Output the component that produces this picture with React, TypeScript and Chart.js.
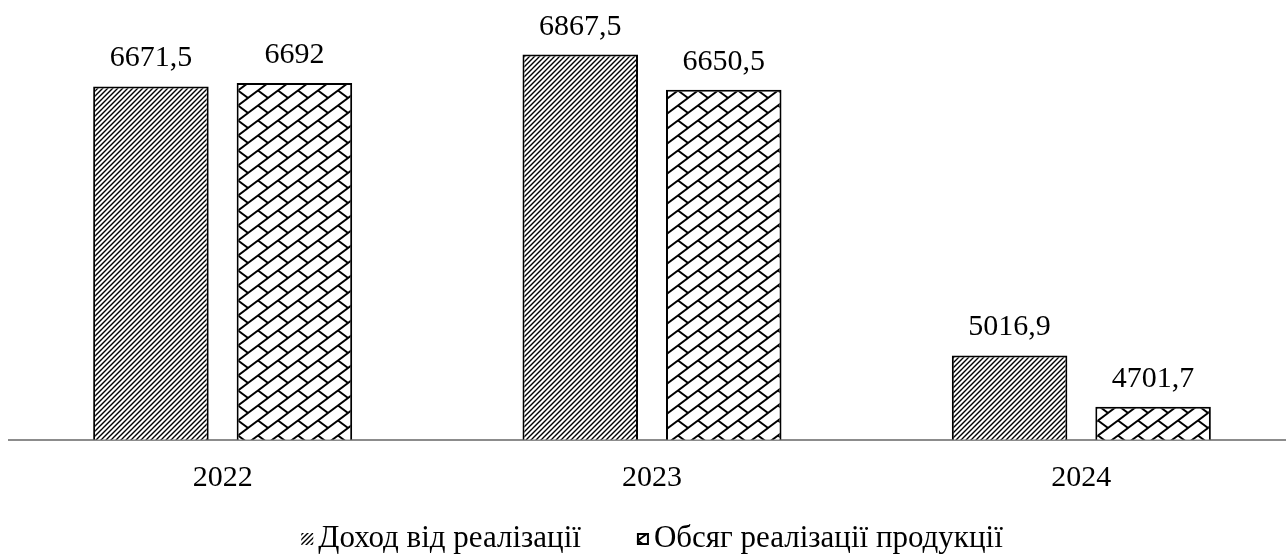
import React, { useEffect, useRef } from 'react';
import { Chart, registerables } from 'chart.js';

Chart.register(...registerables);

const categories = ['2022', '2023', '2024'];
const revenueLabel = 'Доход від реалізації';
const volumeLabel = 'Обсяг реалізації продукції';
const revenue = [6671.5, 6867.5, 5016.9];
const volume = [6692, 6650.5, 4701.7];
const yMin = 4500;
const yMax = 7000;

const FONT = "'Liberation Serif', 'Times New Roman', serif";

const fmt = (v: number) => String(v).replace('.', ',');

function makeDiagonal(): CanvasPattern | string {
  const T = 10;
  const c = document.createElement('canvas');
  c.width = T;
  c.height = T;
  const g = c.getContext('2d');
  if (!g) return '#888';
  g.fillStyle = '#fff';
  g.fillRect(0, 0, T, T);
  g.strokeStyle = '#000';
  g.lineWidth = 1.35;
  for (const k of [-10, -5, 0, 5, 10, 15, 20, 25]) {
    g.beginPath();
    g.moveTo(k + 3, -3);
    g.lineTo(k - T - 3, T + 3);
    g.stroke();
  }
  const p = g.createPattern(c, 'repeat');
  return p || '#888';
}

function makeBrick(): CanvasPattern | string {
  const sx = 2.5;
  const sy = 1.875;
  const W = 8 * sx;
  const H = 8 * sy;
  const c = document.createElement('canvas');
  c.width = W;
  c.height = H;
  const g = c.getContext('2d');
  if (!g) return '#ccc';
  g.fillStyle = '#fff';
  g.fillRect(0, 0, W, H);
  g.strokeStyle = '#000';
  g.lineWidth = 1.9;
  g.lineCap = 'butt';
  const seg = (x1: number, y1: number, x2: number, y2: number) => {
    g.beginPath();
    g.moveTo(x1 * sx, y1 * sy);
    g.lineTo(x2 * sx, y2 * sy);
    g.stroke();
  };
  for (const k of [0, 8, 16]) seg(k + 1, -1, k - 9, 9);
  seg(4, 4, 8, 8);
  seg(-4, -4, 0, 0);
  const p = g.createPattern(c, 'repeat');
  return p || '#ccc';
}

const valueLabels = {
  id: 'valueLabels',
  afterDatasetsDraw(chart: any) {
    const ctx = chart.ctx;
    ctx.save();
    ctx.font = `30px ${FONT}`;
    ctx.fillStyle = '#000';
    ctx.textAlign = 'center';
    ctx.textBaseline = 'alphabetic';
    chart.data.datasets.forEach((ds: any, i: number) => {
      const meta = chart.getDatasetMeta(i);
      meta.data.forEach((el: any, j: number) => {
        ctx.fillText(fmt(ds.data[j]), el.x, el.y - 20);
      });
    });
    ctx.restore();
  },
};

const bottomLegend = {
  id: 'bottomLegend',
  afterDraw(chart: any) {
    const ctx = chart.ctx;
    const area = chart.chartArea;
    ctx.save();
    ctx.font = `31px ${FONT}`;
    ctx.textBaseline = 'alphabetic';
    ctx.textAlign = 'left';
    const box = 12;
    const gapBoxText = 5;
    const gapItems = 56;
    const items = chart.data.datasets.map((ds: any, i: number) => ({
      text: ds.label as string,
      fill: ds.backgroundColor,
      border: i === 1,
      w: ctx.measureText(ds.label).width,
    }));
    const total =
      items.reduce((s: number, it: any) => s + box + gapBoxText + it.w, 0) +
      gapItems * (items.length - 1);
    let x = (area.left + area.right) / 2 - total / 2;
    const baseline = chart.height - 10;
    items.forEach((it: any) => {
      const top = baseline - 14;
      ctx.fillStyle = it.fill;
      ctx.fillRect(x, top, box, box);
      if (it.border) {
        ctx.strokeStyle = '#000';
        ctx.lineWidth = 2;
        ctx.strokeRect(x + 1, top + 1, box - 2, box - 2);
      }
      x += box + gapBoxText;
      ctx.fillStyle = '#000';
      ctx.fillText(it.text, x, baseline);
      x += it.w + gapItems;
    });
    ctx.restore();
  },
};

export default function App() {
  const ref = useRef<HTMLCanvasElement | null>(null);

  useEffect(() => {
    document.body.style.overflow = 'hidden';
    const canvas = ref.current;
    if (!canvas) return;
    const chart = new Chart(canvas, {
      type: 'bar',
      data: {
        labels: categories,
        datasets: [
          {
            label: revenueLabel,
            data: revenue,
            backgroundColor: makeDiagonal() as any,
            borderColor: '#000',
            borderWidth: 2,
            borderSkipped: 'start',
            categoryPercentage: 0.6685,
            barPercentage: 0.805,
          },
          {
            label: volumeLabel,
            data: volume,
            backgroundColor: makeBrick() as any,
            borderColor: '#000',
            borderWidth: 2,
            borderSkipped: 'start',
            categoryPercentage: 0.6685,
            barPercentage: 0.805,
          },
        ],
      },
      options: {
        responsive: false,
        animation: false,
        devicePixelRatio: 1,
        layout: { padding: { top: 25, bottom: 39.5, left: 0, right: 0 } },
        plugins: {
          legend: { display: false },
          tooltip: { enabled: false },
        },
        scales: {
          x: {
            grid: { display: false, drawTicks: false },
            border: { display: true, color: '#8c8c8c', width: 2 },
            ticks: {
              color: '#000',
              padding: 21,
              font: { family: FONT, size: 30 },
            },
          },
          y: { display: false, min: yMin, max: yMax },
        },
      },
      plugins: [valueLabels, bottomLegend],
    });
    return () => chart.destroy();
  }, []);

  return (
    <div
      style={{
        position: 'fixed',
        left: 8,
        top: 8,
        width: 1278,
        height: 549,
        overflow: 'hidden',
      }}
    >
      <canvas ref={ref} width={1288} height={549} style={{ display: 'block' }} />
    </div>
  );
}
